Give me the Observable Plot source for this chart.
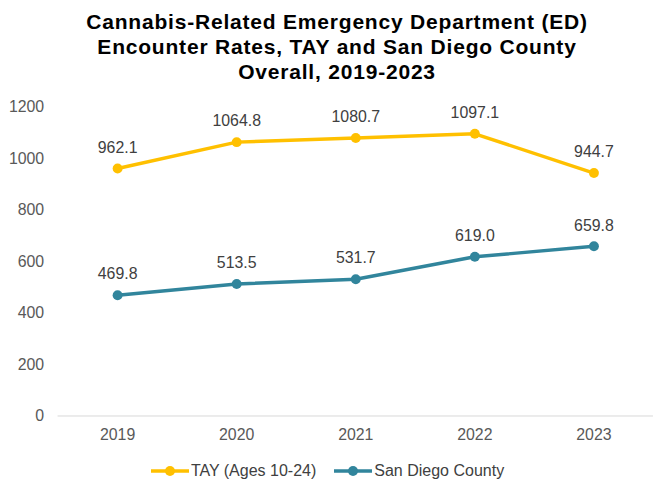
<!DOCTYPE html>
<html><head><meta charset="utf-8">
<script src="https://cdn.jsdelivr.net/npm/d3@7"></script>
<script src="https://cdn.jsdelivr.net/npm/@observablehq/plot@0.6"></script>
<style>
body{margin:0;background:#fff;font-family:"Liberation Sans",Arial,sans-serif;}
#wrap{width:653px;height:483px;position:relative;overflow:hidden;}
#title{position:absolute;top:9px;left:0;width:674px;text-align:center;font-weight:bold;font-size:21px;letter-spacing:0.8px;line-height:25px;color:#000;}
#chart{position:absolute;top:90px;left:0;}
#legend{position:absolute;top:462px;left:0;width:655px;display:flex;justify-content:center;gap:18px;font-size:16px;color:#404040;}
.item{display:flex;align-items:center;gap:2px;}
</style></head><body>
<div id="wrap">
<div id="title">Cannabis-Related Emergency Department (ED)<br>Encounter Rates, TAY and San Diego County<br>Overall, 2019-2023</div>
<div id="chart"></div>
<div id="legend"></div>
</div>
<script>
const years = ["2019","2020","2021","2022","2023"];
const tay = [962.1, 1064.8, 1080.7, 1097.1, 944.7];
const sd = [469.8, 513.5, 531.7, 619.0, 659.8];
const seriesNames = ["TAY (Ages 10-24)", "San Diego County"];
const colors = ["#FFC000", "#31859C"];
const yTicks = [0, 200, 400, 600, 800, 1000, 1200];

const data = [];
years.forEach((y,i)=>{
  data.push({year:y, value:tay[i], series:seriesNames[0]});
  data.push({year:y, value:sd[i], series:seriesNames[1]});
});

const plot = Plot.plot({
  width: 658, height: 360,
  marginTop: 17, marginBottom: 32, marginLeft: 58, marginRight: 0,
  style:{fontFamily:'"Liberation Sans",Arial,sans-serif', fontSize:"16px", color:"#595959", background:"transparent", overflow:"visible"},
  x:{type:"point", domain: years, padding:0.5, label:null, tickSize:0, tickPadding:13},
  y:{domain:[0,1200], ticks: yTicks, tickFormat: d=>String(d), label:null, tickSize:0, tickPadding:14},
  color:{domain: seriesNames, range: colors},
  marks:[
    Plot.ruleY([0], {stroke:"#d9d9d9", strokeWidth:1}),
    Plot.line(data, {x:"year", y:"value", stroke:"series", strokeWidth:3.5}),
    Plot.dot(data, {x:"year", y:"value", fill:"series", r:5}),
    Plot.text(data, {x:"year", y:"value", text: d=>d.value.toFixed(1), dy:-21, fill:"#404040", fontSize:16})
  ]
});
document.getElementById("chart").appendChild(plot);

const leg = document.getElementById("legend");
seriesNames.forEach((n,i)=>{
  const it = document.createElement("div"); it.className="item";
  it.innerHTML = `<svg width="38" height="14"><line x1="0" y1="7" x2="38" y2="7" stroke="${colors[i]}" stroke-width="3.5"/><circle cx="19" cy="7" r="5" fill="${colors[i]}"/></svg><span>${n}</span>`;
  leg.appendChild(it);
});
</script>
</body></html>
